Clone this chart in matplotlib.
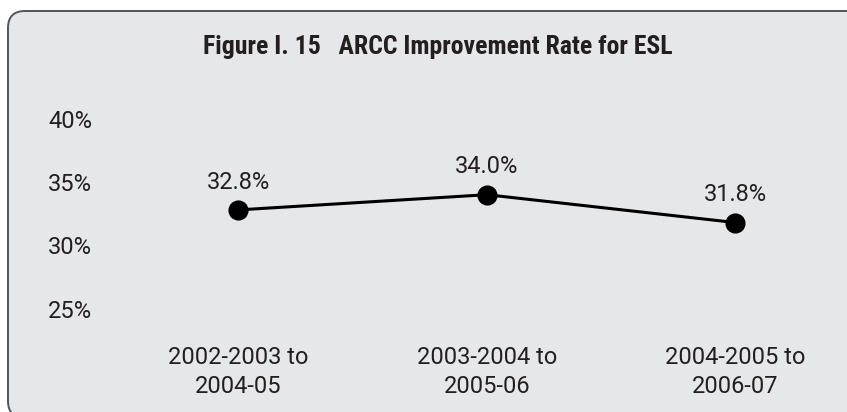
import matplotlib
matplotlib.use('Agg')
from matplotlib import pyplot as plt
from matplotlib import font_manager
from matplotlib.patches import FancyBboxPatch
from matplotlib.transforms import IdentityTransform

# ARCC improvement rate for ESL, by cohort
periods = ['2002-2003 to\n2004-05', '2003-2004 to\n2005-06', '2004-2005 to\n2006-07']
rates = [32.8, 34.0, 31.8]
y_ticks = [25, 30, 35, 40]
y_tick_labels = ['25%', '30%', '35%', '40%']

TEXT = '#231f20'
PANEL = '#e6e7e9'

# pick a narrow face for the title if one is installed
names = {f.name for f in font_manager.fontManager.ttflist}
narrow = next((n for n in ['Roboto Condensed', 'Liberation Sans Narrow',
                           'DejaVu Sans Condensed'] if n in names), 'DejaVu Sans')
title_font = dict(family=narrow, stretch='condensed')
label_font = dict(family='Roboto')

fig = plt.figure(figsize=(8.47, 4.12), dpi=100)
fig.patch.set_facecolor('white')

# rounded panel behind everything (pixel coords, runs off the right/bottom edge)
panel = FancyBboxPatch((8, -6), 880, 407,
                       boxstyle='round,pad=0,rounding_size=17',
                       transform=IdentityTransform(),
                       facecolor=PANEL, edgecolor='#555555', linewidth=1.4,
                       zorder=-10)
fig.patches.append(panel)

fig.text(438 / 847, 1 - 47 / 412, 'Figure I. 15   ARCC Improvement Rate for ESL',
         ha='center', va='center', fontsize=18.5, fontweight='bold',
         color=TEXT, **title_font)

ax = fig.add_axes([114 / 847, 103.3 / 412, (810 - 114) / 847, 190 / 412])
ax.set_facecolor('none')
ax.set_zorder(5)
x = list(range(len(rates)))
ax.plot(x, rates, color='black', linewidth=2.2, marker='o',
        markersize=13.5, zorder=3, clip_on=False)

for xi, r in zip(x, rates):
    ax.annotate(f'{r:.1f}%', (xi, r), xytext=(0, 20), textcoords='offset points',
                ha='center', va='center', fontsize=17, color=TEXT, **label_font)

ax.set_xlim(-0.5, 2.3)
ax.set_ylim(25, 40)
ax.set_yticks(y_ticks)
ax.set_yticklabels(y_tick_labels, fontsize=17, color=TEXT, ha='left', **label_font)
ax.set_xticks(x)
ax.set_xticklabels(periods, fontsize=17, color=TEXT, linespacing=1.3, **label_font)
ax.tick_params(axis='y', length=0, pad=47.5)
ax.tick_params(axis='x', length=0, pad=27)
for s in ax.spines.values():
    s.set_visible(False)

fig.savefig('out.png', dpi=100)
